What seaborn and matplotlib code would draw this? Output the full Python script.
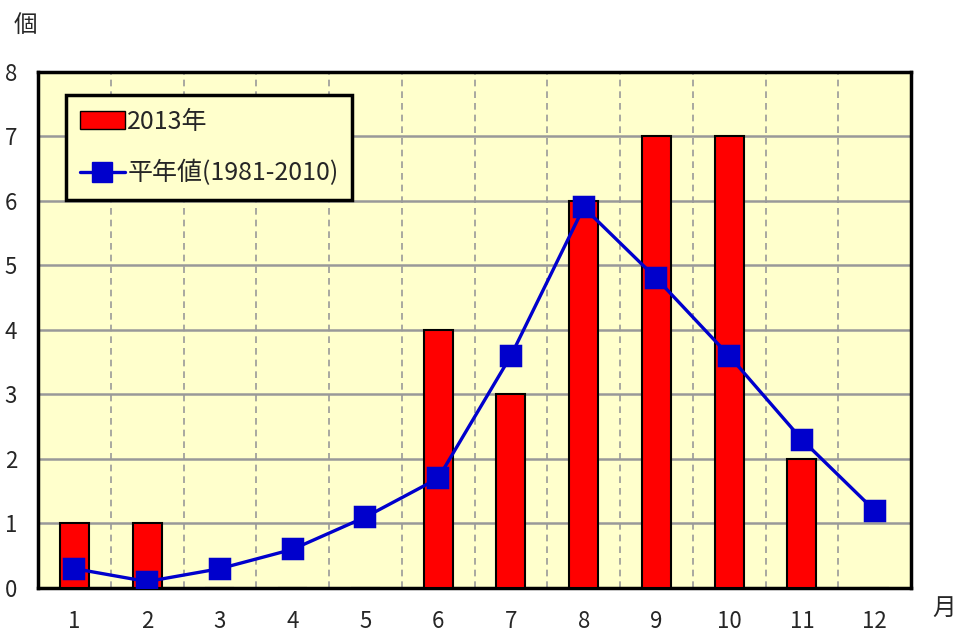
import numpy as np
import pandas as pd
import matplotlib
matplotlib.use("Agg")
import matplotlib.pyplot as plt
import seaborn as sns
from matplotlib.patches import Patch
from matplotlib.lines import Line2D

months = ['1', '2', '3', '4', '5', '6', '7', '8', '9', '10', '11', '12']
count_2013 = [1, 1, 0, 0, 0, 4, 3, 6, 7, 7, 2, 0]
normal_1981_2010 = [0.3, 0.1, 0.3, 0.6, 1.1, 1.7, 3.6, 5.9, 4.8, 3.6, 2.3, 1.2]
y_ticks = [0, 1, 2, 3, 4, 5, 6, 7, 8]

sns.set_style("white")
plt.rcParams['font.family'] = ['Noto Sans CJK JP', 'DejaVu Sans']

bg = '#FFFFCC'
df = pd.DataFrame({'month': months, 'count': count_2013, 'normal': normal_1981_2010})

fig = plt.figure(figsize=(9.6, 6.33), dpi=100)
ax = fig.add_axes([0.0396, 0.0711, 0.9094, 0.8152])
ax.set_facecolor(bg)

sns.barplot(data=df, x='month', y='count', color='#FF0000', edgecolor='black',
            linewidth=1.5, width=0.4, saturation=1, ax=ax, zorder=3)
sns.pointplot(data=df, x='month', y='normal', color='#0000CC', markers='s',
              markersize=14, linewidth=2.4, ax=ax, zorder=4)

ax.set_xlim(-0.5, 11.5)
ax.set_ylim(0, 8)
ax.set_yticks(y_ticks)
ax.set_xlabel('')
ax.set_ylabel('')

# grid: solid horizontal, dashed vertical between months
for y in y_ticks[1:-1]:
    ax.axhline(y, color='#999999', lw=1.8, zorder=1)
for x in np.arange(0.5, 11.5, 1):
    ax.axvline(x, color='#999999', lw=1.2, ls=(0, (4, 3)), zorder=1)

for s in ax.spines.values():
    s.set_color('black')
    s.set_linewidth(2.5)

ax.tick_params(axis='y', length=0, pad=15, labelsize=16)
ax.tick_params(axis='x', length=0, pad=16, labelsize=16)

fig.text(0.026, 0.96, '個', fontsize=17, ha='center', va='center')
fig.text(0.984, 0.039, '月', fontsize=17, ha='center', va='center')

handles = [Patch(facecolor='#FF0000', edgecolor='black', linewidth=1),
           Line2D([0], [0], color='#0000CC', lw=2.4, marker='s', markersize=14)]
leg = ax.legend(handles, ['2013年', '平年値(1981-2010)'], loc='upper left',
                bbox_to_anchor=(0.032, 0.955), fontsize=18, frameon=True,
                fancybox=False, framealpha=1, facecolor=bg, edgecolor='black',
                handlelength=1.8, handletextpad=0.1, labelspacing=1.0,
                borderpad=0.55, borderaxespad=0)
leg.get_frame().set_linewidth(2.5)
leg.set_zorder(10)

fig.savefig('out.png', dpi=100)
